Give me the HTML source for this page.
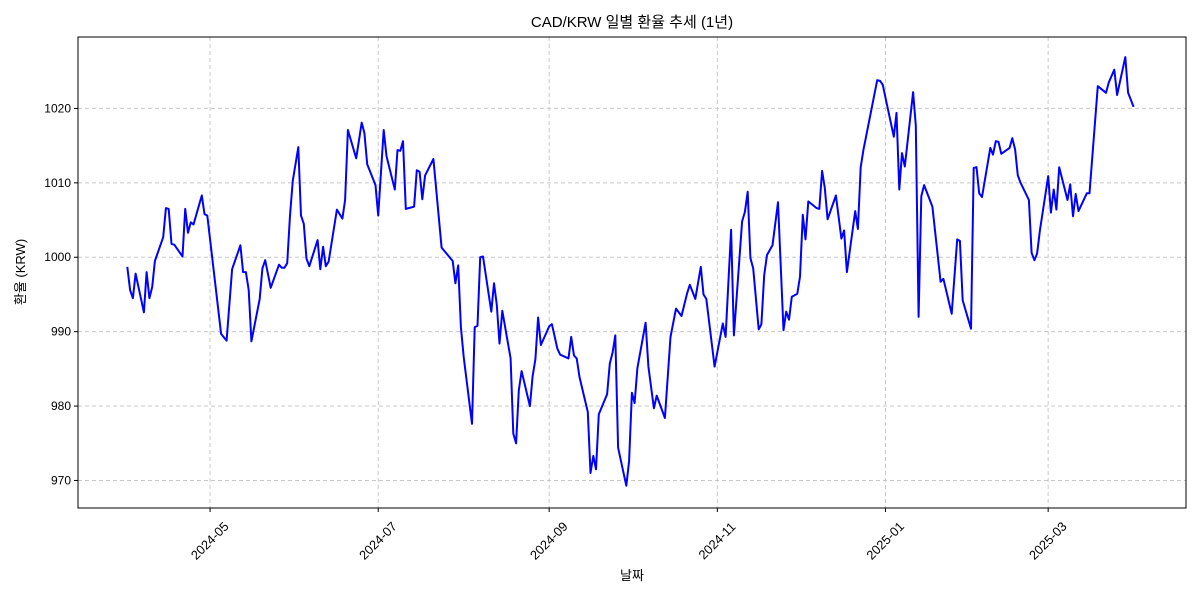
<!DOCTYPE html>
<html><head><meta charset="utf-8">
<style>
html,body{margin:0;padding:0;background:#fff;}
svg text{font-family:"Liberation Sans","Noto Sans CJK KR",sans-serif;fill:#000;}
</style></head>
<body>
<svg id="chart" width="1200" height="600" viewBox="0 0 1200 600" xmlns="http://www.w3.org/2000/svg">
<rect width="1200" height="600" fill="#fff"/>
<text x="632" y="27" font-size="15" text-anchor="middle">CAD/KRW 일별 환율 추세 (1년)</text>
<g id="grid"></g>
<g id="ticks"></g>
<path id="line" fill="none" stroke="#0000ff" stroke-width="2" stroke-linejoin="round"/>
<rect x="78" y="37" width="1108" height="471" fill="none" stroke="#000" stroke-width="1"/>
<text x="632" y="580" font-size="13" text-anchor="middle">날짜</text>
<text x="25" y="272" font-size="13" text-anchor="middle" transform="rotate(-90 25 272)">환율 (KRW)</text>
</svg>
<script>
const baseDate = "2024-04-01";
const days = [0,1,2,3,6,7,8,9,10,13,14,15,16,17,20,21,22,23,24,27,28,29,34,36,38,41,42,43,44,45,48,49,50,52,55,56,57,58,59,60,62,63,64,65,66,69,70,71,72,73,76,78,79,80,83,85,86,87,90,91,93,94,97,98,99,100,101,104,105,106,107,108,111,114,118,119,120,121,122,125,126,127,128,129,132,133,134,135,136,139,140,141,142,143,146,147,148,149,150,153,154,156,157,160,161,162,163,164,167,168,169,170,171,174,175,176,177,178,181,182,183,184,185,188,189,191,192,195,197,199,201,203,204,206,208,209,210,213,216,217,219,220,223,224,225,226,227,229,230,231,232,234,236,238,239,240,241,243,244,245,246,247,250,251,252,253,254,257,259,260,261,264,265,266,267,272,273,274,278,279,280,281,282,285,286,287,288,289,292,295,296,299,301,302,303,306,307,308,309,310,313,314,315,316,317,320,321,322,323,324,327,328,329,330,331,334,335,336,337,338,341,342,343,344,345,348,349,352,355,356,358,359,362,363,365];
const rates = [998.7,995.6,994.5,997.8,992.6,998.0,994.5,996.0,999.5,1002.7,1006.6,1006.5,1001.8,1001.7,1000.1,1006.5,1003.3,1004.7,1004.4,1008.3,1005.8,1005.6,989.7,988.8,998.4,1001.6,998.0,998.0,995.6,988.7,994.4,998.5,999.6,995.9,999.0,998.6,998.6,999.2,1005.6,1010.3,1014.8,1005.6,1004.5,999.8,998.8,1002.3,998.4,1001.4,998.8,999.4,1006.4,1005.2,1007.7,1017.1,1013.3,1018.1,1016.7,1012.5,1009.7,1005.6,1017.1,1013.6,1009.1,1014.4,1014.3,1015.6,1006.5,1006.8,1011.7,1011.5,1007.8,1011.0,1013.2,1001.3,999.5,996.5,998.9,990.6,986.6,977.6,990.6,990.8,1000.0,1000.1,992.7,996.5,993.6,988.4,992.8,986.4,976.3,975.0,982.1,984.7,980.0,984.0,986.3,991.9,988.2,990.7,991.0,987.7,986.9,986.4,989.3,986.8,986.4,983.9,979.2,971.0,973.3,971.5,978.9,981.6,985.7,987.2,989.5,974.4,969.3,972.6,981.8,980.4,985.1,991.2,985.3,979.7,981.4,978.4,989.3,993.1,992.1,995.1,996.3,994.4,998.7,995.0,994.4,985.3,991.1,989.3,1003.7,989.5,1004.8,1006.1,1008.8,999.9,998.5,990.3,991.0,997.6,1000.3,1001.6,1007.4,990.2,992.7,991.6,994.7,995.1,997.4,1005.7,1002.4,1007.5,1006.6,1006.5,1011.6,1009.3,1005.1,1008.3,1002.5,1003.6,998.0,1006.2,1003.8,1012.1,1014.4,1023.8,1023.7,1023.2,1016.2,1019.4,1009.1,1014.0,1012.2,1022.2,1017.7,992.0,1008.2,1009.7,1006.8,996.7,997.1,992.4,1002.4,1002.2,994.2,990.4,1012.0,1012.1,1008.6,1008.1,1014.7,1013.8,1015.6,1015.5,1013.9,1014.7,1016.0,1014.5,1011.0,1010.0,1007.7,1000.6,999.6,1000.5,1003.6,1010.9,1006.0,1009.1,1006.4,1012.1,1007.7,1009.8,1005.5,1008.5,1006.2,1008.6,1008.6,1023.0,1022.1,1023.5,1025.2,1021.8,1026.9,1022.1,1020.2];
const yTicks = [970,980,990,1000,1010,1020];
const xTickLabels = ["2024-05","2024-07","2024-09","2024-11","2025-01","2025-03"];

const NS = "http://www.w3.org/2000/svg";
const L=78,R=1186,T=37,B=508;
const base = Date.parse(baseDate+"T00:00:00Z");
const DAY=86400000;
const dayOf = s => (Date.parse(s+"-01T00:00:00Z")-base)/DAY;
const xMin=-17.9, xMax=384, yMin=966.3, yMax=1029.6;
const xs = d => L+(d-xMin)/(xMax-xMin)*(R-L);
const ys = v => B-(v-yMin)/(yMax-yMin)*(B-T);

const grid=document.getElementById('grid'), ticks=document.getElementById('ticks');
function mk(tag,attrs,parent){const e=document.createElementNS(NS,tag);for(const k in attrs)e.setAttribute(k,attrs[k]);parent.appendChild(e);return e;}

yTicks.forEach(v=>{
  const y=ys(v);
  const g=mk('line',{x1:L,x2:R,y1:y,y2:y,stroke:'#c8c8c8','stroke-dasharray':'4,3','stroke-width':1},grid);
  
  
  mk('line',{x1:L-4,x2:L,y1:y,y2:y,stroke:'#000'},ticks);
  const t=mk('text',{x:L-7,y:y+4,'font-size':12,'text-anchor':'end'},ticks);
  t.textContent=v;
  
  
});
xTickLabels.forEach(s=>{
  const x=xs(dayOf(s));
  const g=mk('line',{x1:x,x2:x,y1:T,y2:B,stroke:'#c8c8c8','stroke-dasharray':'4,3','stroke-width':1},grid);
  
  
  mk('line',{x1:x,x2:x,y1:B,y2:B+4,stroke:'#000'},ticks);
  const t=mk('text',{x:x,y:545,'font-size':12.8,'text-anchor':'middle',transform:`rotate(-45 ${x} 541)`},ticks);
  t.textContent=s;
  
  
});
let d='';
days.forEach((dd,i)=>{d+=(i?'L':'M')+xs(dd).toFixed(1)+','+ys(rates[i]).toFixed(1);});
document.getElementById('line').setAttribute('d',d);
</script>
</body></html>
